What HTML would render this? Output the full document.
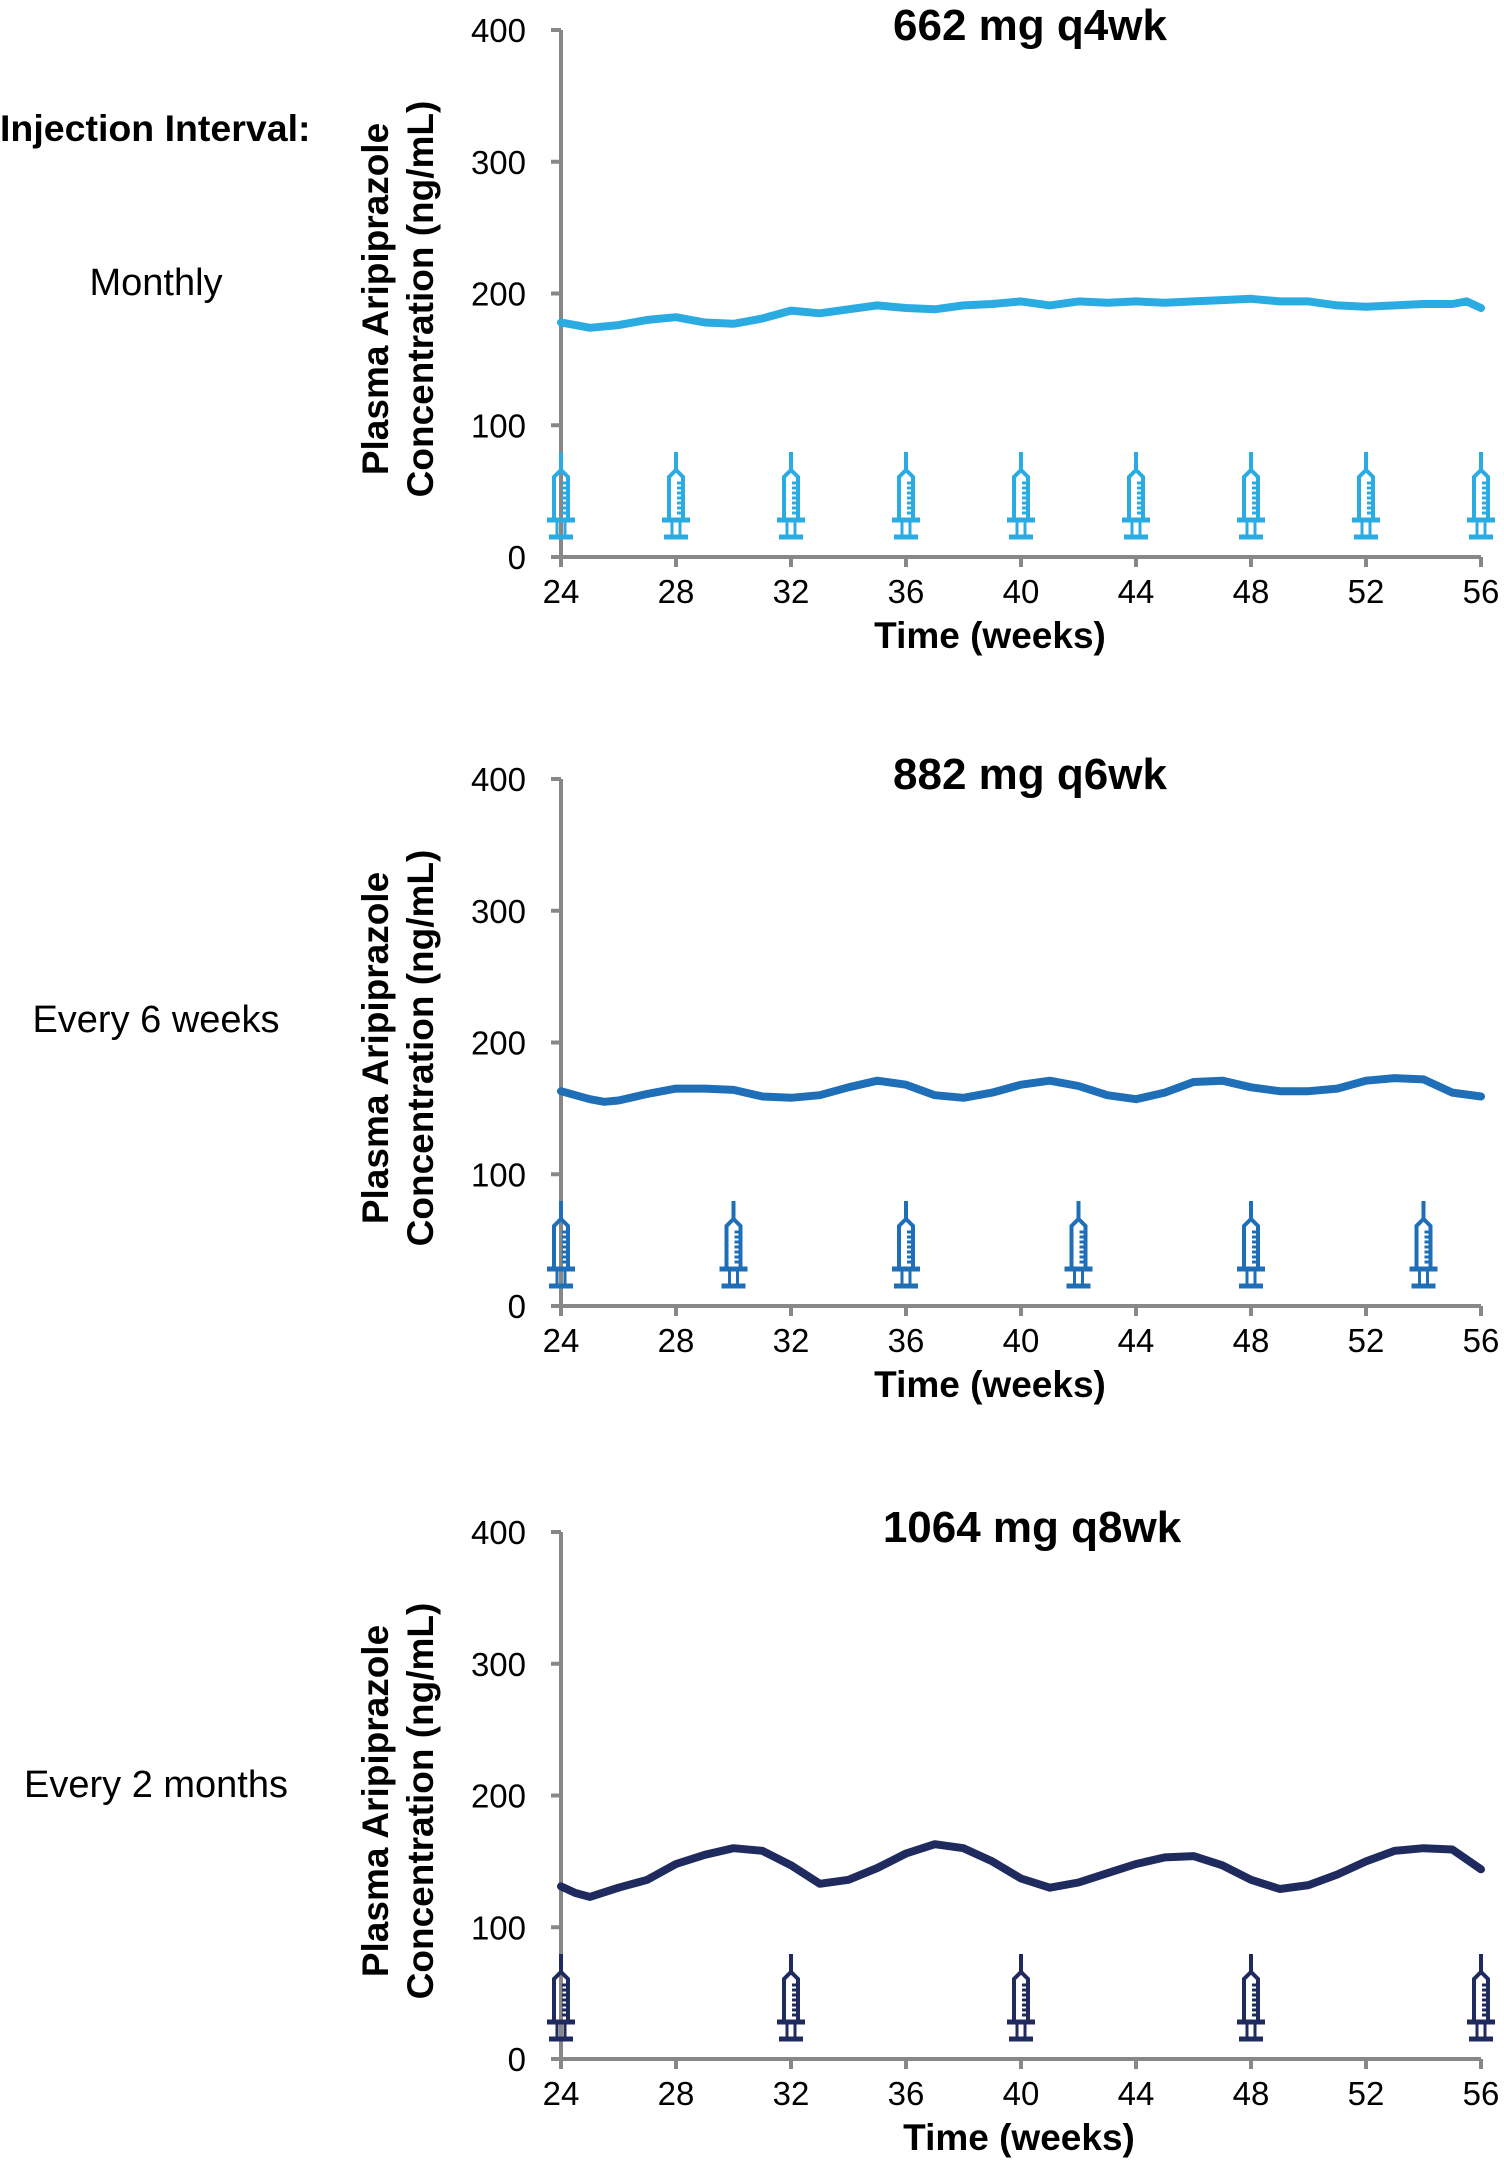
<!DOCTYPE html>
<html><head><meta charset="utf-8"><style>
html,body{margin:0;padding:0;background:#fff;}
svg{display:block;font-family:"Liberation Sans",Arial,sans-serif;}
</style></head><body>
<svg id="chart" width="1504" height="2167" viewBox="0 0 1504 2167" xmlns="http://www.w3.org/2000/svg">
<text x="0" y="141" font-size="37.5" font-weight="bold">Injection Interval:</text>
<text x="156" y="295" font-size="38" text-anchor="middle">Monthly</text>
<text x="156" y="1032" font-size="38" text-anchor="middle">Every 6 weeks</text>
<text x="156" y="1797" font-size="38" text-anchor="middle">Every 2 months</text>
</svg>
<script>
const xTicks = [24,28,32,36,40,44,48,52,56];
const yTicks = [0,100,200,300,400];
const titles = ["662 mg q4wk","882 mg q6wk","1064 mg q8wk"];
const colors = ["#2aabe2","#1e6fb8","#1f2b5f"];
const weeks1 = [24,24.5,25,26,27,28,29,30,31,32,33,34,35,36,37,38,39,40,41,42,43,44,45,46,47,48,49,50,51,52,53,54,55,55.5,56];
const conc1 = [178,176,174,176,180,182,178,177,181,187,185,188,191,189,188,191,192,194,191,194,193,194,193,194,195,196,194,194,191,190,191,192,192,194,189];
const weeks2 = [24,25,25.5,26,27,28,29,30,31,32,33,34,35,36,37,38,39,40,41,42,43,44,45,46,47,48,49,50,51,52,53,54,55,56];
const conc2 = [163,157,155,156,161,165,165,164,159,158,160,166,171,168,160,158,162,168,171,167,160,157,162,170,171,166,163,163,165,171,173,172,162,159];
const weeks3 = [24,24.5,25,26,27,28,29,30,31,32,33,34,35,36,37,38,39,40,41,42,43,44,45,46,47,48,49,50,51,52,53,54,55,56];
const conc3 = [131,126,123,130,136,148,155,160,158,147,133,136,145,156,163,160,150,137,130,134,141,148,153,154,147,136,129,132,140,150,158,160,159,144];
const inj1 = [24,28,32,36,40,44,48,52,56];
const inj2 = [24,30,36,42,48,54];
const inj3 = [24,32,40,48,56];

const svg = document.getElementById('chart');
const NS = "http://www.w3.org/2000/svg";
const bases = [557,1306,2059];
const X0 = 561, X1 = 1481, PX100 = 131.75;
function xs(w){ return X0 + (w-24)*(X1-X0)/32; }
function ys(v,b){ return b - v*PX100/100; }
function mk(tag, attrs){ const e=document.createElementNS(NS,tag); for(const k in attrs) e.setAttribute(k,attrs[k]); svg.appendChild(e); return e; }

const series = [[weeks1,conc1,inj1],[weeks2,conc2,inj2],[weeks3,conc3,inj3]];
const titleX = [1030,1030,1032];
const xTitleX = [990,990,1019];
for(let p=0;p<3;p++){
  const b = bases[p], col = colors[p];
  const t = mk('text',{x:titleX[p],y:b-517,'font-size':44,'font-weight':'bold','text-anchor':'middle'});
  t.textContent = titles[p];
  
  
  const yt = mk('text',{transform:`translate(398,${b-258}) rotate(-90)`,'font-size':37,'font-weight':'bold','text-anchor':'middle'});
  
  
  const s1=document.createElementNS(NS,'tspan'); s1.setAttribute('x',0); s1.setAttribute('y',-10); s1.textContent='Plasma Aripiprazole'; yt.appendChild(s1);
  const s2=document.createElementNS(NS,'tspan'); s2.setAttribute('x',0); s2.setAttribute('y',35); s2.textContent='Concentration (ng/mL)'; yt.appendChild(s2);
  const xt = mk('text',{x:xTitleX[p],y:b+91,'font-size':37,'font-weight':'bold','text-anchor':'middle'});
  xt.textContent='Time (weeks)';
  
  
  const ya = mk('line',{x1:X0,y1:ys(400,b),x2:X0,y2:b+10,stroke:'#878787','stroke-width':4});
  
  
  const xa = mk('line',{x1:X0-10,y1:b,x2:X1,y2:b,stroke:'#878787','stroke-width':4});
  
  
  yTicks.forEach(v=>{
    const tk=mk('line',{x1:X0-10,y1:ys(v,b),x2:X0,y2:ys(v,b),stroke:'#878787','stroke-width':4});
    
    
    const tl=mk('text',{x:526,y:ys(v,b)+12,'font-size':33,'text-anchor':'end'});
    tl.textContent=v;
    
    
  });
  xTicks.forEach(w=>{
    const tk=mk('line',{x1:xs(w),y1:b,x2:xs(w),y2:b+10,stroke:'#878787','stroke-width':4});
    
    
    const tl=mk('text',{x:xs(w),y:b+46,'font-size':33,'text-anchor':'middle'});
    tl.textContent=w;
    
    
  });
  series[p][2].forEach(w=>{
    const cx=xs(w);
    const g=document.createElementNS(NS,'g'); svg.appendChild(g);
    
    
    const st=`stroke="${col}" stroke-width="4" fill="none"`;
    let h=`<line x1="${cx}" y1="${b-105}" x2="${cx}" y2="${b-88}" ${st}/>`;
    h+=`<path d="M${cx-7},${b-37} L${cx-7},${b-80} L${cx},${b-87} L${cx+7},${b-80} L${cx+7},${b-37}" ${st}/>`;
    for(let i=0;i<7;i++){ h+=`<line x1="${cx+1}" y1="${b-74+i*5}" x2="${cx+6}" y2="${b-74+i*5}" stroke="${col}" stroke-width="3"/>`; }
    h+=`<line x1="${cx-14}" y1="${b-37}" x2="${cx+14}" y2="${b-37}" stroke="${col}" stroke-width="5"/>`;
    h+=`<line x1="${cx-4}" y1="${b-37}" x2="${cx-4}" y2="${b-20}" stroke="${col}" stroke-width="3"/>`;
    h+=`<line x1="${cx+4}" y1="${b-37}" x2="${cx+4}" y2="${b-20}" stroke="${col}" stroke-width="3"/>`;
    h+=`<line x1="${cx-12}" y1="${b-20}" x2="${cx+12}" y2="${b-20}" stroke="${col}" stroke-width="5"/>`;
    g.innerHTML=h;
  });
  const [ws,cs]=series[p];
  const d=ws.map((w,i)=>(i?'L':'M')+xs(w).toFixed(1)+','+ys(cs[i],b).toFixed(1)).join(' ');
  const ln=mk('path',{d:d,fill:'none',stroke:col,'stroke-width':8,'stroke-linejoin':'round','stroke-linecap':'round'});
  
  
}
</script>
</body></html>
